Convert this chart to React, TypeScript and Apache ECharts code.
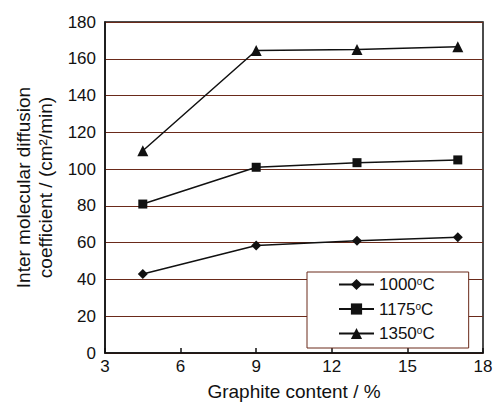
import React, { useEffect, useRef } from "react";
import * as echarts from "echarts";

const xValues = [4.5, 9, 13, 17];
const series1000 = [43, 58.5, 61, 63];
const series1175 = [81, 101, 103.5, 105];
const series1350 = [110, 164.5, 165, 166.5];
const seriesNames = ["1000°C", "1175°C", "1350°C"];
const symbols = ["diamond", "rect", "triangle"];
const symbolSizes = [10, 9, 11];

export default function App() {
  const ref = useRef<HTMLDivElement>(null);
  useEffect(() => {
    if (!ref.current) return;
    const chart = echarts.init(ref.current, null, { renderer: "svg" });
    const font = "Liberation Sans";
    const all = [series1000, series1175, series1350];
    const gridColor = "#6a2a1a";
    chart.setOption({
      animation: false,
      backgroundColor: "#fff",
      textStyle: { fontFamily: font },
      grid: {
        left: 105,
        right: 12,
        top: 22,
        bottom: 50,
        show: true,
        borderColor: "#111",
        borderWidth: 1.5,
        containLabel: false,
        outerBoundsMode: "none",
      },
      legend: {
        orient: "vertical",
        left: 307,
        top: 272,
        padding: [4, 34, 6, 31],
        itemGap: 7.5,
        itemWidth: 35,
        itemHeight: 14,
        borderColor: gridColor,
        borderWidth: 1,
        backgroundColor: "#fff",
        data: seriesNames,
        formatter: (name: string) => {
          const num = name.replace("°C", "");
          return `{n|${num}}{s|o}{n|C}`;
        },
        textStyle: {
          rich: {
            n: { fontSize: 17, fontFamily: font, color: "#111", lineHeight: 16 },
            s: { fontSize: 10, fontFamily: font, color: "#111", verticalAlign: "top", lineHeight: 16 },
          },
        },
      },
      xAxis: {
        type: "value",
        min: 3,
        max: 18,
        interval: 3,
        name: "Graphite content / %",
        nameLocation: "middle",
        nameGap: 29,
        nameTextStyle: { fontSize: 19, color: "#111", fontFamily: font },
        axisLine: { show: true, lineStyle: { color: "#111", width: 1.5 } },
        axisTick: { show: true, inside: true, length: 5, lineStyle: { color: "#111", width: 1.5 } },
        axisLabel: { fontSize: 17, color: "#111", margin: 5, fontFamily: font },
        splitLine: { show: false },
      },
      yAxis: {
        type: "value",
        min: 0,
        max: 180,
        interval: 20,
        name: "Inter molecular diffusion\ncoefficient / (cm²/min)",
        nameLocation: "middle",
        nameRotate: 90,
        nameGap: 47,
        nameTextStyle: { fontSize: 19, color: "#111", fontFamily: font, lineHeight: 22 },
        axisLine: { show: true, lineStyle: { color: "#111", width: 1.5 } },
        axisTick: { show: false },
        axisLabel: { fontSize: 17, color: "#111", margin: 9, fontFamily: font },
        splitLine: { show: true, lineStyle: { color: gridColor, width: 1 } },
      },
      series: all.map((vals, i) => ({
        name: seriesNames[i],
        type: "line",
        data: vals.map((v, j) => [xValues[j], v]),
        symbol: symbols[i],
        symbolSize: symbolSizes[i],
        showAllSymbol: true,
        lineStyle: { color: "#111", width: 1.5 },
        itemStyle: { color: "#111" },
        z: 3,
      })),
    });
    return () => chart.dispose();
  }, []);
  return (
    <div
      ref={ref}
      style={{ position: "fixed", left: 0, top: 0, width: 495, height: 403 }}
    />
  );
}
